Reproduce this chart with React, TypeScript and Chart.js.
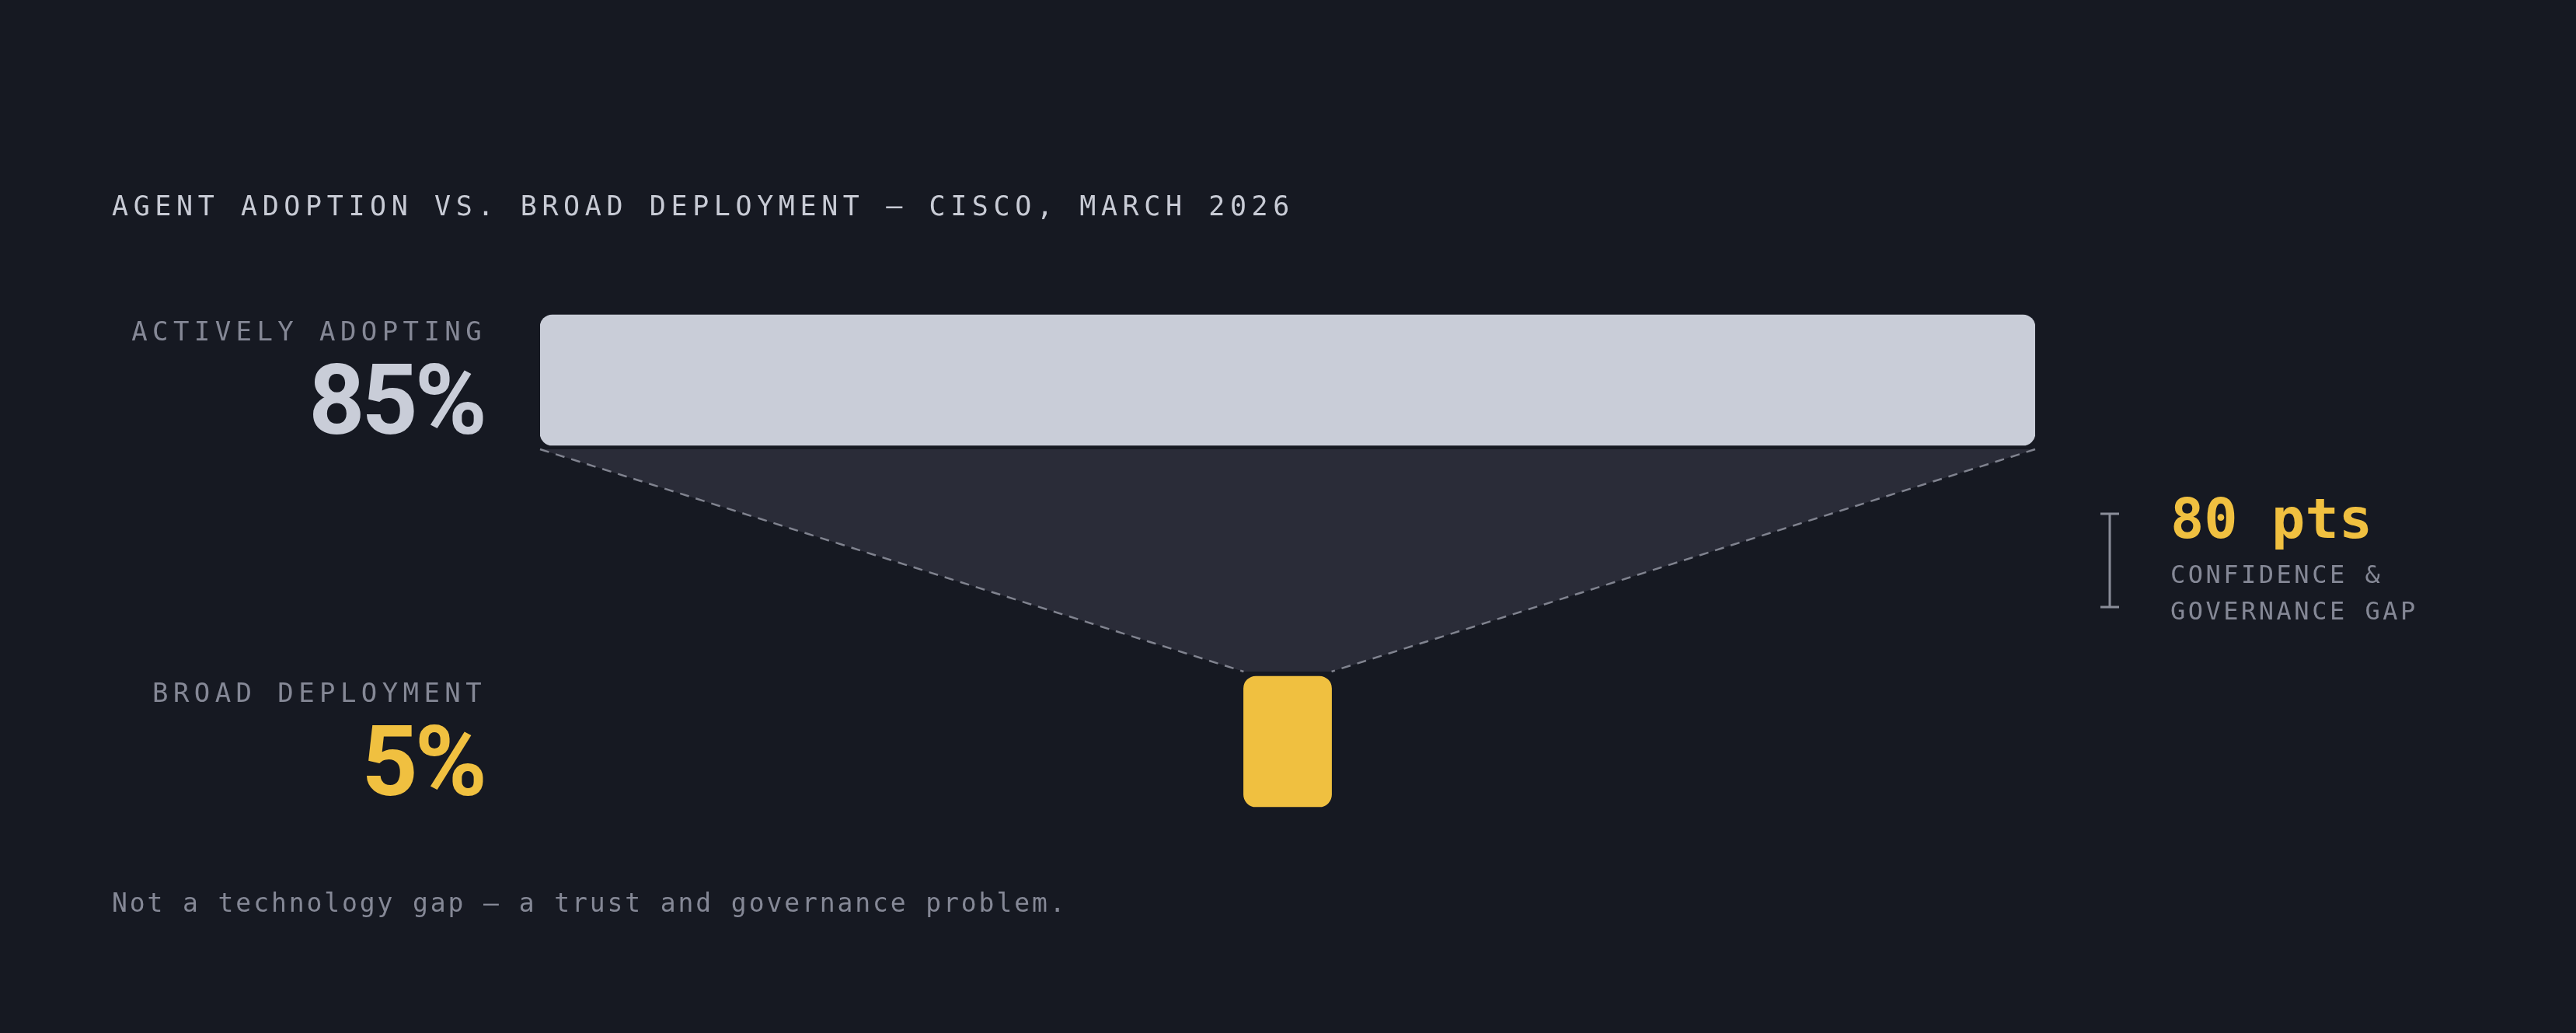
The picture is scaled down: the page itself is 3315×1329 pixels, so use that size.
import React, { useEffect, useRef } from "react";
import { Chart, registerables } from "chart.js";

Chart.register(...registerables);

// ---- data ----
const categories = ["ACTIVELY ADOPTING", "BROAD DEPLOYMENT"];
const values = [85, 5];
const valueLabels = ["85%", "5%"];
const gapLabel = "80 pts";
const gapCaption = ["CONFIDENCE &", "GOVERNANCE GAP"];
const title = "AGENT ADOPTION VS. BROAD DEPLOYMENT — CISCO, MARCH 2026";
const footer = "Not a technology gap — a trust and governance problem.";

// ---- style ----
const W = 3315;
const H = 1329;
const BG = "#161922";
const BAR_LIGHT = "#c9cdd8";
const YELLOW = "#f0c040";
const FUNNEL = "#2a2c38";
const MUTED = "#858896";
const TITLE_C = "#c8cbd5";
const MONO = '"DejaVu Sans Mono", "Liberation Mono", monospace';
const SANS = 'Roboto, Inter, "Noto Sans", sans-serif';

const overlay = {
  id: "overlay",
  beforeDraw(chart: any) {
    const ctx = chart.ctx;
    ctx.save();
    ctx.fillStyle = BG;
    ctx.fillRect(0, 0, chart.width, chart.height);
    ctx.restore();
  },
  beforeDatasetsDraw(chart: any) {
    const ctx = chart.ctx;
    const meta = chart.getDatasetMeta(0);
    const a: any = meta.data[0];
    const b: any = meta.data[1];
    if (!a || !b) return;
    const aL = Math.min(a.x, a.base), aR = Math.max(a.x, a.base);
    const bL = Math.min(b.x, b.base), bR = Math.max(b.x, b.base);
    const top = a.y + a.height / 2 + 5;
    const bot = b.y - b.height / 2 - 6;
    ctx.save();
    ctx.fillStyle = FUNNEL;
    ctx.beginPath();
    ctx.moveTo(aL, top);
    ctx.lineTo(aR, top);
    ctx.lineTo(bR, bot);
    ctx.lineTo(bL, bot);
    ctx.closePath();
    ctx.fill();
    ctx.strokeStyle = "#80838f";
    ctx.lineWidth = 2.5;
    ctx.setLineDash([12, 9]);
    ctx.beginPath();
    ctx.moveTo(aL, top);
    ctx.lineTo(bL, bot);
    ctx.moveTo(aR, top);
    ctx.lineTo(bR, bot);
    ctx.stroke();
    ctx.restore();
  },
  afterDraw(chart: any) {
    const ctx = chart.ctx;
    const area = chart.chartArea;
    const meta = chart.getDatasetMeta(0);
    const a: any = meta.data[0];
    const b: any = meta.data[1];
    ctx.save();
    ctx.textBaseline = "alphabetic";

    // title
    ctx.textAlign = "left";
    ctx.fillStyle = TITLE_C;
    ctx.font = `400 35px ${MONO}`;
    (ctx as any).letterSpacing = "6.6px";
    ctx.fillText(title, 144, 277);

    // left labels
    const anchor = area.left - 71;
    [a, b].forEach((el: any, i: number) => {
      if (!el) return;
      ctx.textAlign = "right";
      ctx.fillStyle = MUTED;
      ctx.font = `400 34px ${MONO}`;
      (ctx as any).letterSpacing = "6.4px";
      ctx.fillText(categories[i], anchor + 2, el.y - 51);
      ctx.fillStyle = i === 0 ? BAR_LIGHT : YELLOW;
      ctx.font = `700 126px ${SANS}`;
      (ctx as any).letterSpacing = "-4px";
      ctx.fillText(valueLabels[i], anchor - 1, el.y + 69);
    });

    // gap annotation
    if (a && b) {
      const top = a.y + a.height / 2 + 5;
      const bot = b.y - b.height / 2 - 6;
      const mid = (top + bot) / 2;
      const bx = area.right + 96;
      ctx.strokeStyle = "#8a8d99";
      ctx.lineWidth = 3;
      ctx.setLineDash([]);
      ctx.beginPath();
      ctx.moveTo(bx, mid - 60);
      ctx.lineTo(bx, mid + 60);
      ctx.moveTo(bx - 12, mid - 60);
      ctx.lineTo(bx + 12, mid - 60);
      ctx.moveTo(bx - 12, mid + 60);
      ctx.lineTo(bx + 12, mid + 60);
      ctx.stroke();

      const tx = area.right + 174;
      ctx.textAlign = "left";
      ctx.fillStyle = YELLOW;
      ctx.font = `700 72px ${MONO}`;
      (ctx as any).letterSpacing = "0px";
      ctx.fillText(gapLabel, tx, mid - 29);
      ctx.fillStyle = MUTED;
      ctx.font = `400 32px ${MONO}`;
      (ctx as any).letterSpacing = "3.5px";
      ctx.fillText(gapCaption[0], tx, mid + 29);
      ctx.fillText(gapCaption[1], tx, mid + 76);
    }

    // footer
    ctx.textAlign = "left";
    ctx.fillStyle = MUTED;
    ctx.font = `400 33px ${MONO}`;
    (ctx as any).letterSpacing = "2.9px";
    ctx.fillText(footer, 144, 1173);
    ctx.restore();
  },
};

export default function App() {
  const ref = useRef<HTMLCanvasElement | null>(null);
  useEffect(() => {
    document.body.style.margin = "0";
    document.body.style.background = BG;
    const canvas = ref.current;
    if (!canvas) return;
    const maxV = Math.max(...values);
    const chart = new Chart(canvas, {
      type: "bar",
      data: {
        labels: categories,
        datasets: [
          {
            data: values.map((v) => [-v / 2, v / 2]) as any,
            backgroundColor: [BAR_LIGHT, YELLOW],
            borderWidth: 0,
            borderRadius: 16,
            borderSkipped: false,
            barThickness: 168,
          },
        ],
      },
      options: {
        indexAxis: "y",
        animation: false,
        responsive: false,
        devicePixelRatio: 1,
        layout: { padding: { left: 695, right: 696, top: 256.5, bottom: 142.5 } },
        plugins: { legend: { display: false }, tooltip: { enabled: false } },
        scales: {
          x: { display: false, min: -maxV / 2, max: maxV / 2 },
          y: { display: false, offset: true },
        },
      },
      plugins: [overlay],
    });
    return () => chart.destroy();
  }, []);
  return (
    <div style={{ width: W, height: H, background: BG }}>
      <canvas ref={ref} width={W} height={H} style={{ display: "block", width: W, height: H }} />
    </div>
  );
}
